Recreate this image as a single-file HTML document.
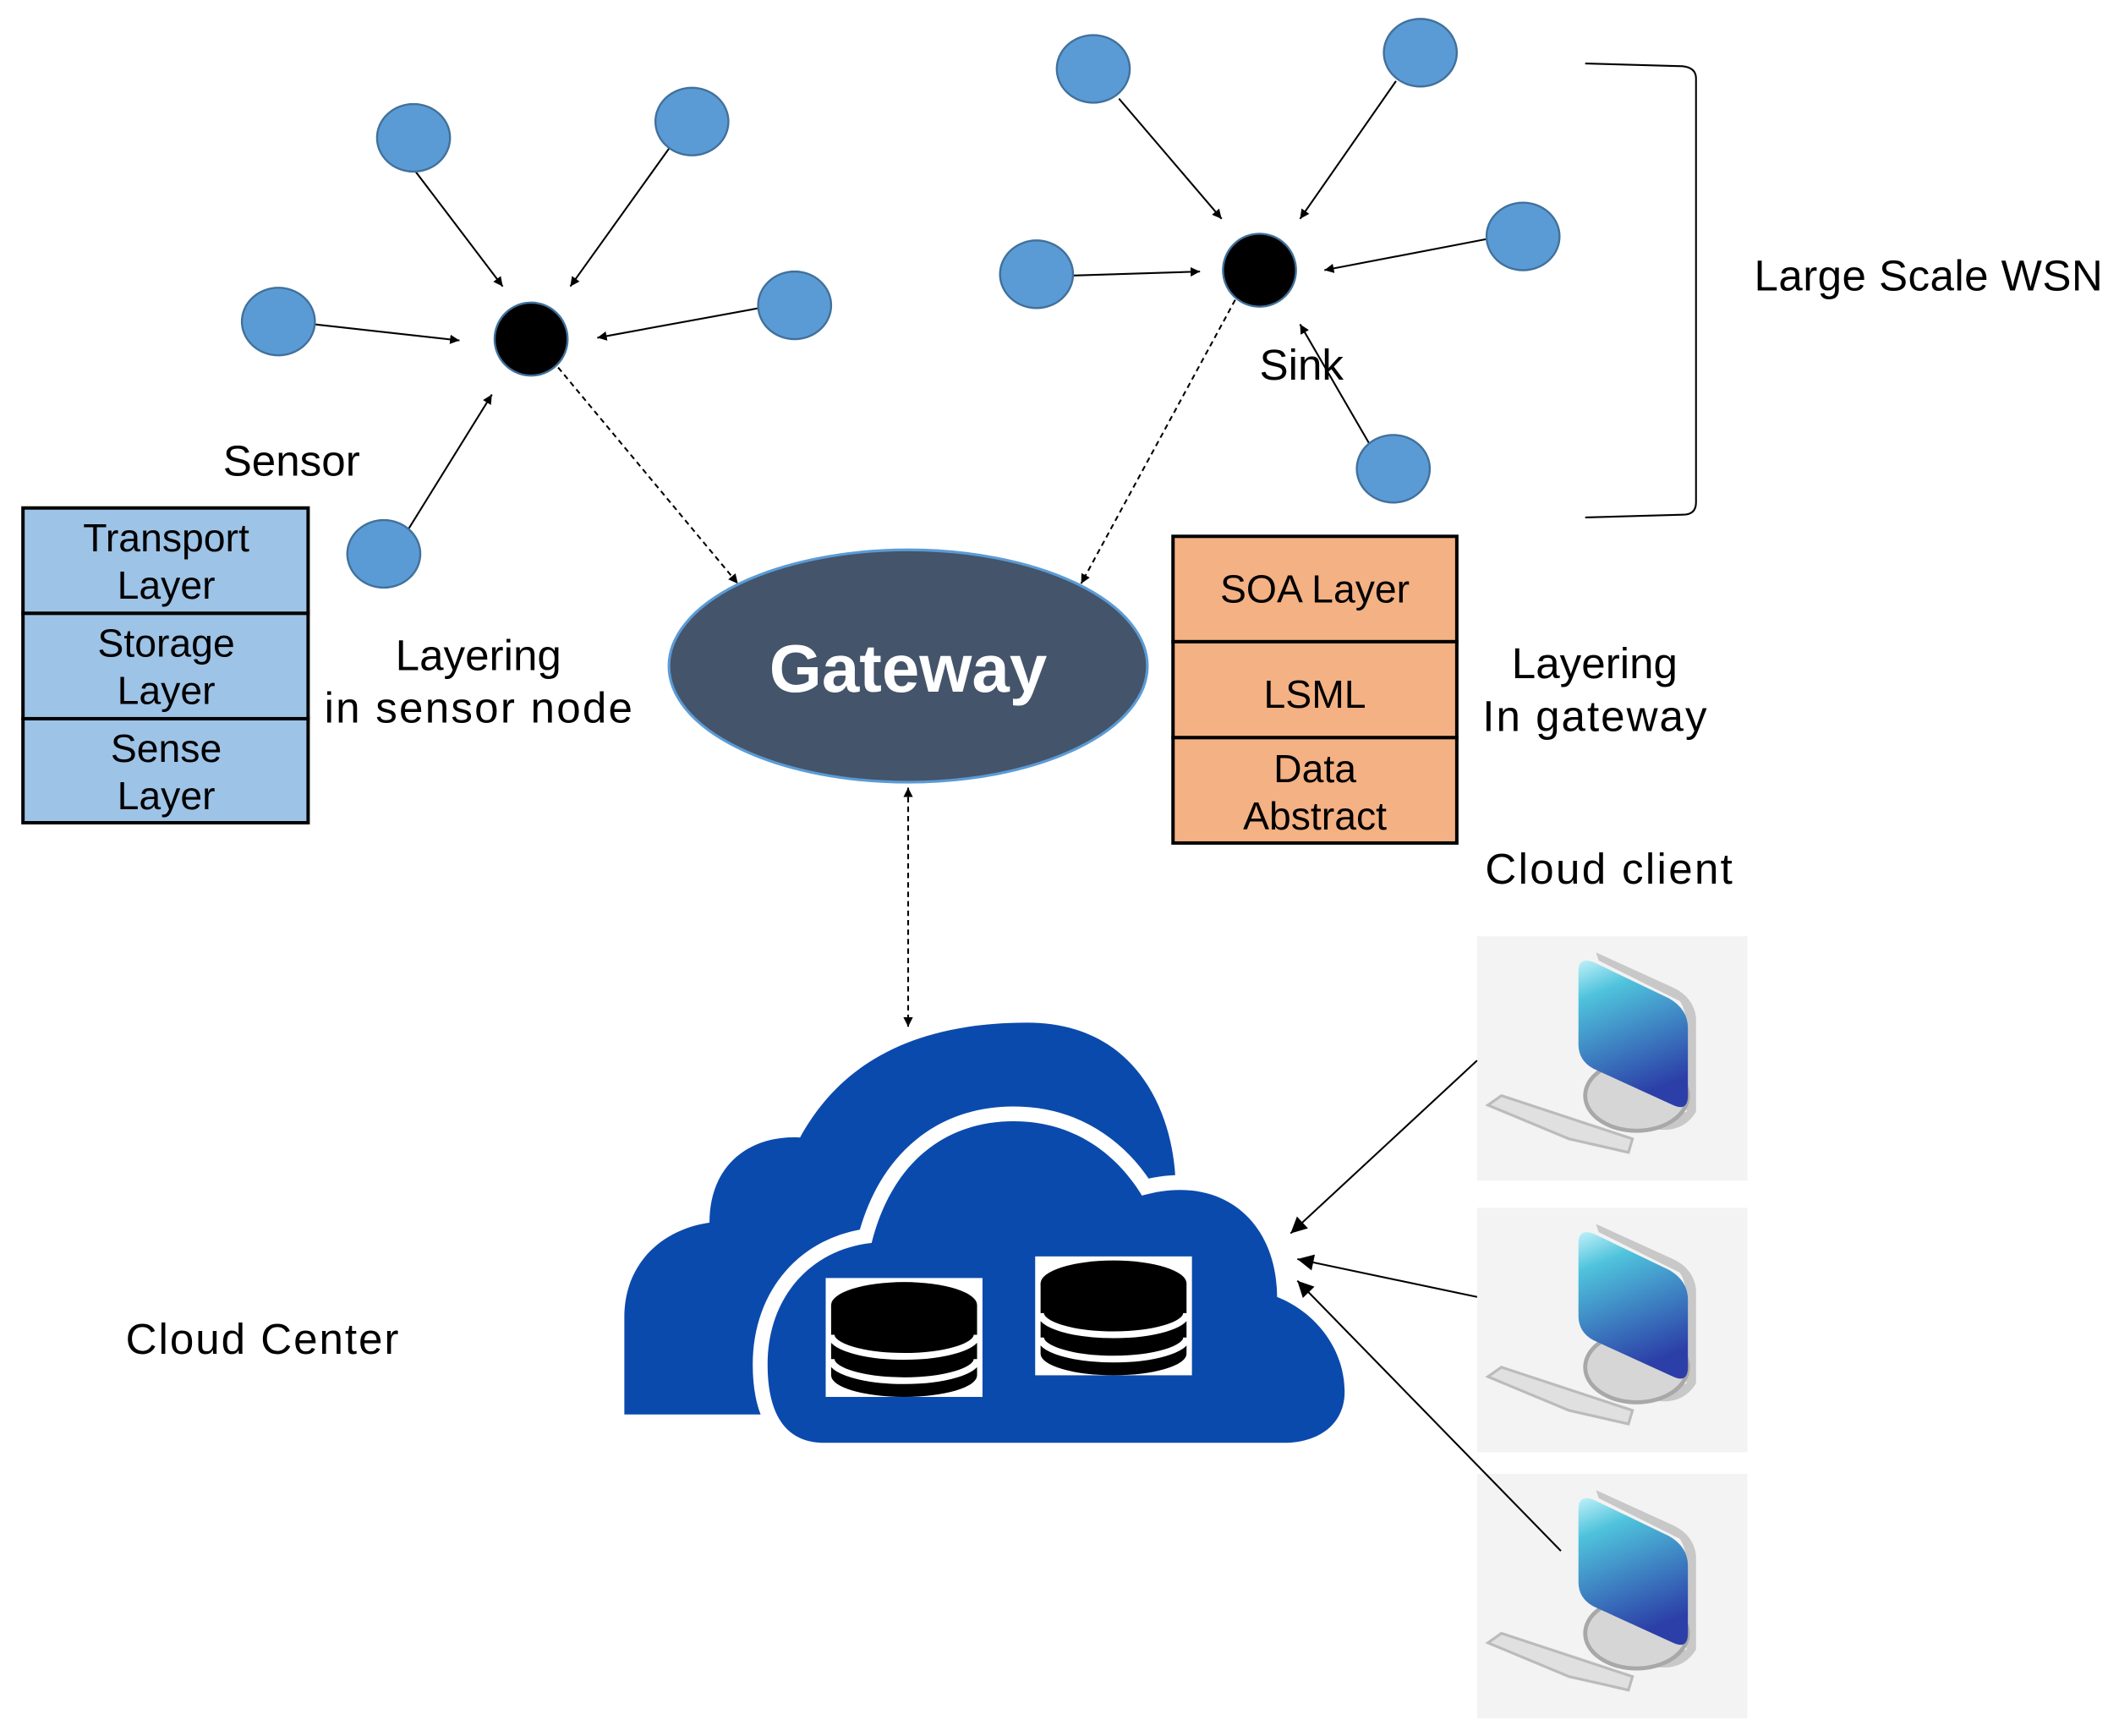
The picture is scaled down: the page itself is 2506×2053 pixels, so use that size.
<!DOCTYPE html>
<html><head><meta charset="utf-8"><style>
html,body{margin:0;padding:0;background:#fff;}
svg{display:block;}
text{font-family:"Liberation Sans","Noto Sans CJK KR",sans-serif;}
</style></head><body>
<svg width="2506" height="2053" viewBox="0 0 1568 1285" preserveAspectRatio="none" xmlns="http://www.w3.org/2000/svg">
<defs>
<marker id="ah" viewBox="0 0 10 10" refX="10" refY="5" markerWidth="7" markerHeight="7" orient="auto-start-reverse" markerUnits="userSpaceOnUse"><path d="M0,0 L10,5 L0,10 z" fill="#000"/></marker>
<marker id="ahb" viewBox="0 0 10 10" refX="10" refY="5" markerWidth="14" markerHeight="12" orient="auto-start-reverse" markerUnits="userSpaceOnUse"><path d="M0,0 L10,5 L0,10 z" fill="#000"/></marker>
<linearGradient id="scr" x1="0" y1="0" x2="0.3" y2="1"><stop offset="0" stop-color="#bff0f8"/><stop offset="0.25" stop-color="#4fc3dc"/><stop offset="1" stop-color="#2c3fa8"/></linearGradient>
<g id="pc">
<rect x="0" y="0" width="200" height="181" fill="#f3f3f3"/>
<path d="M120,140 Q150,150 162,130 L162,60 Q160,45 145,38 L88,12 L90,18 L150,48 Q155,55 155,70 L155,130 Z" fill="#c8c8c8"/>
<ellipse cx="118" cy="118" rx="38" ry="26" fill="#d6d6d6" stroke="#a8a8a8" stroke-width="3"/>
<path d="M75,26 Q75,14 88,20 L142,46 Q156,54 156,68 L156,118 Q156,130 145,125 L86,98 Q75,92 75,80 Z" fill="url(#scr)"/>
<path d="M8,125 L18,118 L115,150 L112,160 L68,150 Z" fill="#e0e0e0" stroke="#bbb" stroke-width="2"/>
</g>
<g id="db">
<rect x="0" y="0" width="116" height="88" fill="#fff"/>
<path d="M4,20 L4,72 A54,16 0 0 0 112,72 L112,20 Z" fill="#000"/>
<path d="M4,42 A54,16 0 0 0 112,42" fill="none" stroke="#fff" stroke-width="5"/>
<path d="M4,60 A54,16 0 0 0 112,60" fill="none" stroke="#fff" stroke-width="5"/>
<ellipse cx="58" cy="20" rx="54" ry="17" fill="#000"/>
</g>
</defs>

<g stroke="#000" stroke-width="1.3" fill="none" marker-end="url(#ah)">
<line x1="306" y1="125" x2="372" y2="212"/>
<line x1="495" y1="110" x2="422" y2="212"/>
<line x1="232" y1="240" x2="340" y2="252"/>
<line x1="562" y1="228" x2="442" y2="250"/>
<line x1="302" y1="392" x2="364" y2="292"/>
<line x1="828" y1="73" x2="904" y2="162"/>
<line x1="1033" y1="60" x2="962" y2="162"/>
<line x1="793" y1="204" x2="888" y2="201"/>
<line x1="1100" y1="177" x2="980" y2="200"/>
<line x1="1013" y1="328" x2="962" y2="240"/>
</g>
<g stroke="#000" stroke-width="1.3" fill="none" stroke-dasharray="4,3" marker-end="url(#ah)">
<line x1="413" y1="272" x2="546" y2="432"/>
<line x1="914" y1="222" x2="800" y2="432"/>
<line x1="672" y1="583" x2="672" y2="760" marker-start="url(#ah)"/>
</g>

<g fill="#5b9bd5" stroke="#41719c" stroke-width="1.5">
<ellipse cx="306" cy="102" rx="27" ry="25"/>
<ellipse cx="512" cy="90" rx="27" ry="25"/>
<ellipse cx="206" cy="238" rx="27" ry="25"/>
<ellipse cx="588" cy="226" rx="27" ry="25"/>
<ellipse cx="284" cy="410" rx="27" ry="25"/>
<ellipse cx="809" cy="51" rx="27" ry="25"/>
<ellipse cx="1051" cy="39" rx="27" ry="25"/>
<ellipse cx="767" cy="203" rx="27" ry="25"/>
<ellipse cx="1127" cy="175" rx="27" ry="25"/>
<ellipse cx="1031" cy="347" rx="27" ry="25"/>
</g>
<circle cx="393" cy="251" r="27" fill="#000" stroke="#41719c" stroke-width="1.5"/>
<circle cx="932" cy="200" r="27" fill="#000" stroke="#41719c" stroke-width="1.5"/>

<path d="M1173,47 L1245,49 Q1255,50 1255,58 L1255,372 Q1255,381 1245,381 L1173,383" fill="none" stroke="#000" stroke-width="1.3"/>

<ellipse cx="672" cy="493" rx="177" ry="86" fill="#44546a" stroke="#5b9bd5" stroke-width="2"/>
<text x="672" y="512" font-size="50" font-weight="bold" fill="#fff" text-anchor="middle">Gateway</text>

<g stroke="#000" stroke-width="2.5" fill="#9dc3e6">
<rect x="17" y="376" width="211" height="78"/>
<rect x="17" y="454" width="211" height="78"/>
<rect x="17" y="532" width="211" height="77"/>
</g>
<g font-size="29" text-anchor="middle" fill="#000">
<text x="123" y="408">Transport</text><text x="123" y="443">Layer</text>
<text x="123" y="486">Storage</text><text x="123" y="521">Layer</text>
<text x="123" y="564">Sense</text><text x="123" y="599">Layer</text>
</g>
<g stroke="#000" stroke-width="2.5" fill="#f4b183">
<rect x="868" y="397" width="210" height="78"/>
<rect x="868" y="475" width="210" height="71"/>
<rect x="868" y="546" width="210" height="78"/>
</g>
<g font-size="29" text-anchor="middle" fill="#000">
<text x="973" y="446">SOA Layer</text>
<text x="973" y="524">LSML</text>
<text x="973" y="579">Data</text><text x="973" y="614">Abstract</text>
</g>

<g font-size="32" fill="#000">
<text x="165" y="352">Sensor</text>
<text x="354" y="496" text-anchor="middle">Layering</text>
<text x="354" y="535" text-anchor="middle" textLength="228">in sensor node</text>
<text x="932" y="281">Sink</text>
<text x="1298" y="215" textLength="258">Large Scale WSN</text>
<text x="1180" y="502" text-anchor="middle">Layering</text>
<text x="1180" y="541" text-anchor="middle" textLength="166">In gateway</text>
<text x="1099" y="654" textLength="183">Cloud client</text>
<text x="93" y="1002" textLength="202">Cloud Center</text>
</g>

<!-- cloud -->
<path d="M462,1047 L462,975 C462,935 490,910 525,905 C525,862 555,840 592,842 C615,800 660,757 760,757 C845,757 870,830 870,880 L870,1047 Z" fill="#0b4aad"/>
<path id="fc" d="M610,1068 C580,1068 568,1045 568,1010 C568,960 600,925 645,920 C660,860 700,830 750,830 C800,830 830,860 845,885 C905,868 945,905 945,960 C975,972 995,1000 995,1030 C995,1055 975,1068 950,1068 Z" fill="#0b4aad" stroke="#fff" stroke-width="22"/>
<path d="M610,1068 C580,1068 568,1045 568,1010 C568,960 600,925 645,920 C660,860 700,830 750,830 C800,830 830,860 845,885 C905,868 945,905 945,960 C975,972 995,1000 995,1030 C995,1055 975,1068 950,1068 Z" fill="#0b4aad"/>
<rect x="560" y="1070" width="450" height="20" fill="#fff"/>
<use href="#db" x="611" y="946"/>
<use href="#db" x="766" y="930"/>

<use href="#pc" x="1093" y="693"/>
<use href="#pc" x="1093" y="894"/>
<use href="#pc" x="1093" y="1091"/>

<g stroke="#000" stroke-width="1.3" fill="none" marker-end="url(#ahb)">
<line x1="1093" y1="785" x2="955" y2="913"/>
<line x1="1093" y1="960" x2="960" y2="932"/>
<line x1="1155" y1="1148" x2="960" y2="948"/>
</g>
</svg>
</body></html>
